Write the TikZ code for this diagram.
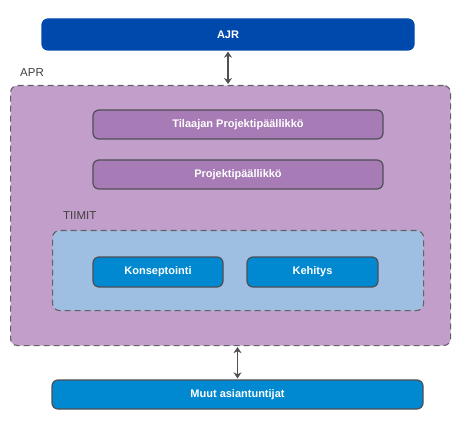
\documentclass[tikz,border=0pt]{standalone}
\usepackage{fontspec}
\setmainfont{Liberation Sans}
\usetikzlibrary{arrows.meta}
\definecolor{ajrblue}{HTML}{0049AC}
\definecolor{teamblue}{HTML}{0088D1}
\definecolor{aprfill}{HTML}{C29FCB}
\definecolor{pmfill}{HTML}{A77BB5}
\definecolor{teamsfill}{HTML}{9EBFE1}
\definecolor{edge}{HTML}{4F4F55}
\begin{document}
\begin{tikzpicture}[
  x=1pt,y=-1pt,
  >={Stealth[length=6pt,width=8pt]},
  group/.style={draw=edge!90,line width=1.1pt,dash pattern=on 6pt off 4pt,rounded corners=7pt},
  role/.style={draw=edge,line width=1.2pt,rounded corners=6pt,text=white,font=\bfseries\fontsize{11}{12}\selectfont,inner sep=0pt},
  lab/.style={font=\fontsize{11.5}{13}\selectfont,text=black!75,anchor=west,inner sep=0pt},
  link/.style={<->,draw=edge,line width=1.6pt,shorten >=1pt,shorten <=1pt}
]
\useasboundingbox (0,0) rectangle (476,430);
% outer groups
\node[group,fill=aprfill,minimum width=440,minimum height=260,anchor=north west] (apr) at (10,85) {};
\node[lab] (aprlab) at (20,73) {APR};
\node[group,fill=teamsfill,minimum width=371,minimum height=80,anchor=north west] (tiimit) at (52,230) {};
\node[lab] (tiimitlab) at (63,216) {TIIMIT};
% roles
\node[role,fill=ajrblue,draw=ajrblue,minimum width=372,minimum height=31] (ajr) at (228,34.5) {AJR};
\node[role,fill=pmfill,minimum width=290,minimum height=29] (tpp) at (238,124.5) {Tilaajan Projektipäällikkö};
\node[role,fill=pmfill,minimum width=290,minimum height=29] (pp) at (238,174.5) {Projektipäällikkö};
\node[role,fill=teamblue,minimum width=130,minimum height=30] (kons) at (158,272) {Konseptointi};
\node[role,fill=teamblue,minimum width=131,minimum height=30] (keh) at (312.5,272) {Kehitys};
\node[role,fill=teamblue,minimum width=371,minimum height=29] (muut) at (237.5,394.5) {Muut asiantuntijat};
% links
\draw[link] (ajr.south) -- (ajr.south |- apr.north);
\draw[link] (muut.north |- apr.south) -- (muut.north);
\end{tikzpicture}
\end{document}
